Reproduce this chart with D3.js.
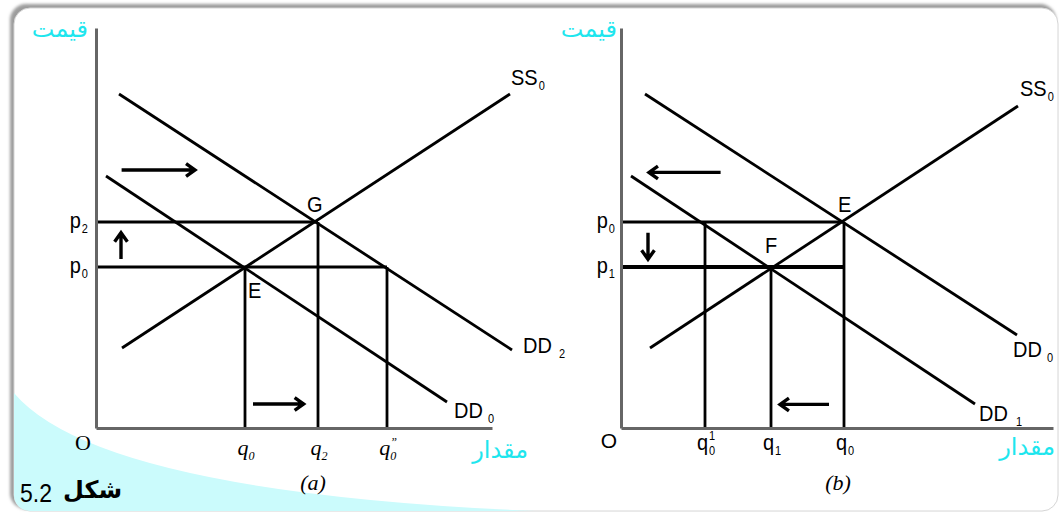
<!DOCTYPE html>
<html>
<head>
<meta charset="utf-8">
<script src="https://cdn.jsdelivr.net/npm/d3@7"></script>
<style>
    body { margin: 0; background: #fff; }
    svg { display: block; }
</style>
</head>
<body>
<div id="chart"></div>
<script>
// ---- data (quantity / price units, 0..100) ----

// panel (a): demand rises from DD0 to DD2
const curvesA = [
    {name: "SS", sub: "0", x1: 6.5, y1: 20, x2: 103.5, y2: 83.5},
    {name: "DD", sub: "2", x1: 5.75, y1: 83.5, x2: 104, y2: 19.5},
    {name: "DD", sub: "0", x1: 2.5, y1: 63, x2: 87.75, y2: 6.5}
];
const pricesA = [
    {label: "p", sub: "2", value: 51.5},
    {label: "p", sub: "0", value: 40.25}
];
const quantitiesA = [
    {label: "q", sub: "0", value: 37.25},
    {label: "q", sub: "2", value: 55.5},
    {label: "q", sub: "0", sup: "\u201D", value: 72.75}
];
const hLinesA = [{p: 51.5, q: 55.5}, {p: 40.25, q: 72.75}];
const vLinesA = [{q: 37.25, p: 40.25}, {q: 55.5, p: 51.5}, {q: 72.75, p: 40.25}];
const pointsA = [{name: "G", q: 55.5, p: 51.5}, {name: "E", q: 37.25, p: 40.25}];
const arrowsA = [
    {x1: 6.4, y1: 64.5, x2: 24.75, y2: 64.5},
    {x1: 6.25, y1: 42.25, x2: 6.25, y2: 48.8},
    {x1: 39.25, y1: 6, x2: 51.9, y2: 6}
];

// panel (b): demand falls from DD0 to DD1
const curvesB = [
    {name: "SS", sub: "0", x1: 7.25, y1: 20, x2: 99.25, y2: 80.5},
    {name: "DD", sub: "0", x1: 6, y1: 83.5, x2: 99, y2: 23.25},
    {name: "DD", sub: "1", x1: 2.5, y1: 63, x2: 88.5, y2: 6}
];
const pricesB = [
    {label: "p", sub: "0", value: 51.5},
    {label: "p", sub: "1", value: 40.25}
];
const quantitiesB = [
    {label: "q", sub: "0", sup: "1", value: 21},
    {label: "q", sub: "1", value: 37.5},
    {label: "q", sub: "0", value: 55.75}
];
const hLinesB = [{p: 51.5, q: 55.75}, {p: 40.25, q: 55.75}];
const vLinesB = [{q: 21, p: 51.5}, {q: 37.5, p: 40.25}, {q: 55.75, p: 51.5}];
const pointsB = [{name: "E", q: 55.75, p: 51.5}, {name: "F", q: 37.5, p: 40.25}];
const arrowsB = [
    {x1: 24.9, y1: 63.9, x2: 7, y2: 63.9},
    {x1: 6.75, y1: 48.8, x2: 6.75, y2: 42.2},
    {x1: 52, y1: 5.9, x2: 39.75, y2: 5.9}
];

const W = 1061, H = 513;
const CYAN = "#1ee6ee";
const SANS = "'Liberation Sans', Arial, sans-serif";
const SERIF = "'Liberation Serif', 'Times New Roman', serif";
const ARABIC = "'DejaVu Sans', 'Noto Sans', sans-serif";
const STRETCH = 1.14; // the source font is taller than Arial

// text with optional sub / superscript, placed by anchor
function addLabel(parent, x, y, lab, st) {
    const g = parent.append("g");
    const size = st.size;
    const font = (sel, fs) => sel
        .style("font-family", st.family)
        .style("font-size", fs + "px")
        .style("font-style", st.italic ? "italic" : "normal")
        .attr("fill", "#000");
    const t = g.append("text").text(lab.text).call(font, size);
    const w = t.node().getComputedTextLength();
    const gap = st.gap == null ? 1 : st.gap;
    let extra = 0;
    if (lab.sub) {
        const s = g.append("text").attr("x", w + gap).attr("y", size * 0.24)
            .text(lab.sub).call(font, size * 0.55);
        extra = Math.max(extra, gap + s.node().getComputedTextLength());
    }
    if (lab.sup) {
        const s = g.append("text").attr("x", w + gap).attr("y", -size * 0.42)
            .text(lab.sup).call(font, size * 0.55);
        extra = Math.max(extra, gap + s.node().getComputedTextLength());
    }
    const total = w + extra;
    const shift = st.anchor === "end" ? -total : st.anchor === "middle" ? -total / 2 : 0;
    const sy = st.family === SANS ? STRETCH : 1;
    g.attr("transform", `translate(${x + shift},${y}) scale(1,${sy})`);
    return g;
}

class MarketPanel {
    constructor(svg, cfg, data) {
        this.svg = svg;
        this.cfg = cfg;
        this.data = data;
        this.initVis();
    }

    initVis() {
        const vis = this;
        vis.g = vis.svg.append("g");

        vis.x = d3.scaleLinear().domain([0, vis.cfg.xMax]).range([vis.cfg.left, vis.cfg.right]);
        vis.y = d3.scaleLinear().domain([0, 100]).range([428, 28]);

        vis.updateVis();
    }

    updateVis() {
        const vis = this;
        const d = vis.data, c = vis.cfg, x = vis.x, y = vis.y;

        // guide lines
        vis.g.selectAll(".hline").data(d.hLines).enter().append("line")
            .attr("x1", x(0)).attr("x2", e => x(e.q))
            .attr("y1", e => y(e.p)).attr("y2", e => y(e.p))
            .attr("stroke", "#000").attr("stroke-width", (e, i) => c.hWidth[i]);
        vis.g.selectAll(".vline").data(d.vLines).enter().append("line")
            .attr("x1", e => x(e.q)).attr("x2", e => x(e.q))
            .attr("y1", e => y(e.p)).attr("y2", y(0))
            .attr("stroke", "#000").attr("stroke-width", 2.8);

        // supply / demand curves
        vis.g.selectAll(".curve").data(d.curves).enter().append("line")
            .attr("x1", e => x(e.x1)).attr("y1", e => y(e.y1))
            .attr("x2", e => x(e.x2)).attr("y2", e => y(e.y2))
            .attr("stroke", "#000").attr("stroke-width", 2.8);

        d.curves.forEach((e, i) => {
            const o = c.curveLabel[i];
            addLabel(vis.g, x(e.x2) + o[0], y(e.y2) + o[1], {text: e.name, sub: e.sub},
                {family: SANS, size: 20, anchor: "start", gap: o[2]});
        });

        // arrows
        d.arrows.forEach(a => {
            const x1 = x(a.x1), y1 = y(a.y1), x2 = x(a.x2), y2 = y(a.y2);
            const ang = Math.atan2(y2 - y1, x2 - x1);
            const L = 11, s = 0.62;
            const path = d3.path();
            path.moveTo(x1, y1);
            path.lineTo(x2, y2);
            path.moveTo(x2 - L * Math.cos(ang - s), y2 - L * Math.sin(ang - s));
            path.lineTo(x2, y2);
            path.lineTo(x2 - L * Math.cos(ang + s), y2 - L * Math.sin(ang + s));
            vis.g.append("path").attr("d", path.toString())
                .attr("fill", "none").attr("stroke", "#000")
                .attr("stroke-width", 3.4).attr("stroke-linejoin", "miter");
        });

        // axes (no ticks, just the grey lines)
        const xAxis = d3.axisBottom(x).tickValues([]).tickSizeOuter(0);
        const yAxis = d3.axisLeft(y).tickValues([]).tickSizeOuter(0);
        vis.g.append("g").attr("transform", `translate(0,${y(0)})`).call(xAxis)
            .select(".domain").attr("stroke", "#666").attr("stroke-width", 3);
        vis.g.append("g").attr("transform", `translate(${x(0)},0)`).call(yAxis)
            .select(".domain").attr("stroke", "#666").attr("stroke-width", 3);

        // equilibrium point letters
        d.points.forEach((pt, i) => {
            const o = c.pointLabel[i];
            addLabel(vis.g, x(pt.q) + o[0], y(pt.p) + o[1], {text: pt.name},
                {family: SANS, size: 20, anchor: "start"});
        });

        // price labels
        d.prices.forEach(p => {
            addLabel(vis.g, x(0) - c.pGap, y(p.value) + 6, {text: p.label, sub: p.sub},
                {family: SANS, size: 20, anchor: "end"});
        });

        // quantity labels
        d.quantities.forEach(q => {
            addLabel(vis.g, x(q.value) + 1, c.qBase, {text: q.label, sub: q.sub, sup: q.sup},
                {family: c.qSerif ? SERIF : SANS, size: c.qSerif ? 22 : 20,
                 italic: c.qSerif, anchor: "middle", gap: c.qSerif ? 0 : 1});
        });

        // origin
        vis.g.append("text").attr("x", c.oX).attr("y", c.oY).attr("text-anchor", "middle")
            .style("font-family", c.qSerif ? SERIF : SANS)
            .style("font-size", c.qSerif ? "22px" : "21px").text("O");

        // axis titles
        vis.g.append("text").attr("x", c.priceTitleX).attr("y", 37).attr("text-anchor", "end")
            .attr("fill", CYAN).style("font-family", ARABIC).style("font-size", "24px")
            .text("قیمت");
        vis.g.append("text").attr("x", c.qtyTitleX).attr("y", c.qtyTitleY).attr("text-anchor", "end")
            .attr("fill", CYAN).style("font-family", ARABIC).style("font-size", "24px")
            .text("مقدار");

        // panel caption
        vis.g.append("text").attr("x", c.captionX).attr("y", 490).attr("text-anchor", "middle")
            .style("font-family", SERIF).style("font-style", "italic").style("font-size", "22px")
            .text(c.caption);
    }
}

const svg = d3.select("#chart").append("svg")
    .attr("width", W).attr("height", H);

// frame with soft shadow on top / left
const defs = svg.append("defs");
defs.append("filter").attr("id", "blur").attr("x", "-5%").attr("y", "-5%")
    .attr("width", "110%").attr("height", "110%")
    .append("feGaussianBlur").attr("stdDeviation", 1.6);
defs.append("clipPath").attr("id", "frameClip")
    .append("rect").attr("x", 14).attr("y", 8).attr("width", 1044).attr("height", 503).attr("rx", 16);

svg.append("rect").attr("x", 10).attr("y", 4).attr("width", 1046).attr("height", 505).attr("rx", 16)
    .attr("fill", "#9c9c9c").attr("filter", "url(#blur)");
svg.append("rect").attr("x", 14).attr("y", 8).attr("width", 1044).attr("height", 503).attr("rx", 16)
    .attr("fill", "#fff").attr("stroke", "#d6d6d6").attr("stroke-width", 1);

// cyan swoosh in the lower-left corner
const sw = d3.path();
sw.moveTo(14, 393);
sw.quadraticCurveTo(100, 495, 560, 512);
sw.lineTo(14, 512);
sw.closePath();
svg.append("path").attr("d", sw.toString()).attr("fill", "#cbfbfc")
    .attr("clip-path", "url(#frameClip)");

new MarketPanel(svg, {
    left: 96, right: 492, xMax: 99,
    hWidth: [2.8, 2.8],
    curveLabel: [[1, -9, 1], [11, 3, 7], [7, 16, 5]],
    pointLabel: [[-11, -10], [3, 31]],
    pGap: 8, qBase: 455, qSerif: true,
    oX: 83, oY: 450,
    priceTitleX: 88, qtyTitleX: 528, qtyTitleY: 458,
    captionX: 313, caption: "(a)"
}, {
    curves: curvesA, prices: pricesA, quantities: quantitiesA,
    hLines: hLinesA, vLines: vLinesA, points: pointsA, arrows: arrowsA
});

new MarketPanel(svg, {
    left: 621, right: 1053, xMax: 108,
    hWidth: [2.8, 3.8],
    curveLabel: [[2, -10, 1], [-4, 22, 5], [4, 17, 8]],
    pointLabel: [[-6, -10], [-6, -14]],
    pGap: 6, qBase: 450, qSerif: false,
    oX: 609, oY: 448,
    priceTitleX: 617, qtyTitleX: 1055, qtyTitleY: 455,
    captionX: 838, caption: "(b)"
}, {
    curves: curvesB, prices: pricesB, quantities: quantitiesB,
    hLines: hLinesB, vLines: vLinesB, points: pointsB, arrows: arrowsB
});

// figure number
svg.append("text").attr("transform", `translate(20,502) scale(1,${STRETCH})`)
    .style("font-family", SANS).style("font-size", "23px").text("5.2");
svg.append("text").attr("x", 122).attr("y", 498).attr("text-anchor", "end")
    .style("font-family", ARABIC).style("font-size", "24px").style("font-weight", "bold")
    .text("شكل");
</script>
</body>
</html>
